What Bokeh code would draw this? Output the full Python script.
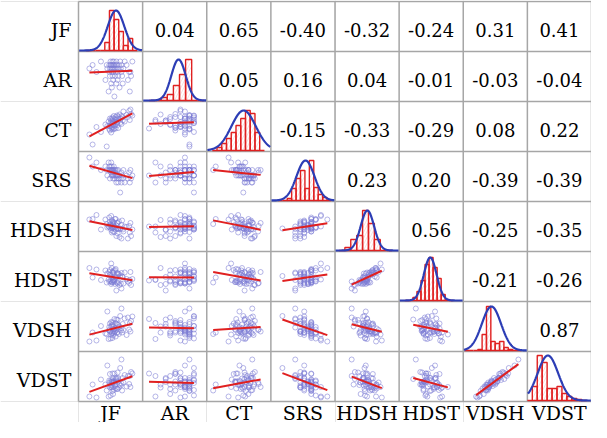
import numpy as np
from bokeh.plotting import figure
from bokeh.models import Range1d
from bokeh.core.properties import value
from bokeh.embed import file_html
from bokeh.resources import INLINE

names = ["JF", "AR", "CT", "SRS", "HDSH", "HDST", "VDSH", "VDST"]

# correlation coefficients (upper triangle as printed)
corr_JF = [1.00, 0.04, 0.65, -0.40, -0.32, -0.24, 0.31, 0.41]
corr_AR = [0.04, 1.00, 0.05, 0.16, 0.04, -0.01, -0.03, -0.04]
corr_CT = [0.65, 0.05, 1.00, -0.15, -0.33, -0.29, 0.08, 0.22]
corr_SRS = [-0.40, 0.16, -0.15, 1.00, 0.23, 0.20, -0.39, -0.39]
corr_HDSH = [-0.32, 0.04, -0.33, 0.23, 1.00, 0.56, -0.25, -0.35]
corr_HDST = [-0.24, -0.01, -0.29, 0.20, 0.56, 1.00, -0.21, -0.26]
corr_VDSH = [0.31, -0.03, 0.08, -0.39, -0.25, -0.21, 1.00, 0.87]
corr_VDST = [0.41, -0.04, 0.22, -0.39, -0.35, -0.26, 0.87, 1.00]
corr = [corr_JF, corr_AR, corr_CT, corr_SRS, corr_HDSH, corr_HDST, corr_VDSH, corr_VDST]

# observations (scaled 0-100 within each panel)
JF = [17, 22, 28, 35, 42, 44, 45, 47, 48, 48, 49, 49, 50, 50, 51, 51, 51, 52, 52, 52,
      53, 53, 53, 54, 54, 54, 54, 55, 55, 56, 56, 57, 57, 58, 58, 59, 59, 60, 60, 61,
      61, 62, 62, 63, 64, 65, 66, 67, 67, 68, 69, 70, 72, 75, 77, 79, 80, 81, 82, 84]
AR = [66, 73, 59, 80, 43, 73, 66, 20, 73, 59, 66, 51, 80, 73, 36, 66, 73, 59, 28, 66,
      73, 80, 51, 66, 73, 43, 59, 66, 80, 10, 73, 66, 51, 59, 73, 36, 80, 66, 73, 43,
      59, 66, 51, 73, 28, 80, 66, 59, 73, 51, 36, 66, 80, 73, 43, 59, 20, 59, 51, 80]
CT = [34, 14, 49, 39, 54, 10, 51, 60, 45, 51, 66, 42, 57, 51, 62, 38, 65, 49, 55, 45,
      61, 68, 48, 59, 44, 65, 55, 52, 71, 46, 59, 65, 52, 69, 46, 59, 64, 57, 72, 53,
      59, 70, 47, 66, 74, 57, 66, 55, 71, 69, 62, 80, 60, 73, 69, 81, 63, 84, 75, 72]
SRS = [88, 70, 78, 63, 70, 63, 52, 78, 63, 70, 46, 63, 70, 63, 58, 78, 63, 52, 70, 63,
       63, 52, 63, 46, 58, 63, 52, 70, 63, 52, 46, 63, 58, 52, 63, 38, 52, 63, 46, 52,
       52, 38, 63, 46, 52, 18, 46, 58, 38, 52, 46, 63, 38, 52, 46, 58, 38, 63, 46, 52]
HDSH = [64, 65, 73, 44, 64, 55, 48, 50, 68, 49, 53, 59, 47, 55, 43, 71, 52, 38, 63, 50,
        47, 60, 48, 55, 53, 40, 59, 48, 58, 50, 39, 65, 48, 44, 65, 31, 52, 46, 57, 57,
        36, 45, 46, 60, 29, 46, 45, 53, 26, 62, 44, 40, 50, 49, 26, 51, 38, 57, 31, 44]
HDST = [67, 48, 64, 43, 62, 38, 56, 44, 59, 40, 54, 63, 41, 53, 35, 76, 48, 38, 67, 39,
        48, 59, 42, 59, 39, 42, 57, 44, 62, 42, 40, 63, 35, 48, 65, 22, 50, 38, 57, 54,
        36, 56, 39, 55, 33, 51, 36, 57, 26, 50, 49, 36, 58, 45, 40, 37, 43, 59, 33, 45]
VDSH = [20, 38, 22, 51, 36, 35, 80, 25, 43, 49, 40, 56, 26, 41, 50, 34, 59, 37, 38, 53,
        27, 51, 58, 40, 45, 32, 54, 44, 36, 65, 39, 46, 41, 57, 30, 64, 44, 37, 55, 39,
        63, 48, 53, 35, 50, 71, 42, 47, 86, 38, 55, 43, 66, 33, 68, 44, 57, 40, 61, 70]
VDST = [10, 34, 8, 44, 34, 22, 72, 10, 38, 42, 28, 55, 12, 33, 39, 29, 43, 33, 28, 40,
        21, 37, 56, 29, 40, 15, 46, 40, 23, 56, 38, 31, 34, 47, 26, 45, 42, 25, 47, 25,
        58, 47, 40, 28, 34, 67, 32, 36, 84, 22, 47, 38, 53, 30, 51, 35, 51, 29, 59, 56]
series = [JF, AR, CT, SRS, HDSH, HDST, VDSH, VDST]

# histograms on the diagonal: first bin edge, bin width, counts
hist_start = [12, 10, 8.6, 11.7, 6.2, 8.9, 2.2, 0]
hist_width = [7.25, 9.5, 7.4, 6.9, 9.2, 6.3, 6.8, 7.7]
hist_JF = [0, 0, 0, 0, 8, 40, 31, 19, 5, 12, 0]
hist_AR = [0, 0, 3, 6, 15, 26, 41, 0, 0]
hist_CT = [0, 3, 7, 12, 18, 25, 32, 40, 37, 18, 0]
hist_SRS = [0, 0, 2, 12, 22, 30, 12, 40, 13, 6, 3, 0]
hist_HDSH = [0, 3, 11, 15, 40, 27, 11, 0, 0]
hist_HDST = [0, 0, 3, 9, 20, 36, 43, 33, 22, 6, 0, 0]
hist_VDSH = [0, 0, 0, 1, 16, 44, 9, 7, 9, 3, 1, 0, 0]
hist_VDST = [0, 14, 45, 38, 12, 12, 14, 7, 4, 2, 1, 0]
hists = [hist_JF, hist_AR, hist_CT, hist_SRS, hist_HDSH, hist_HDST, hist_VDSH, hist_VDST]
# fitted normal curves: mean, sd
norm_mean = [58.5, 56, 57.5, 54, 50.5, 48.5, 44, 32]
norm_sd = [12.9, 11.3, 19, 14, 10.5, 10, 15, 16]

GRID = "#a6a6a6"
COUNT_SCALE = 1 / 50.0
SERIF = "DejaVu Serif"
n = len(names)

# canvas geometry (pixels): label margin left, matrix size, label margin below
W, H = 591, 422
LEFT, TOP, CELL_H = 78, 1, 50.0
CELL_W = (W - LEFT) / n
BOTTOM = H - TOP - n * CELL_H
ux, uy = 1 / CELL_W, 1 / CELL_H

p = figure(frame_width=W, frame_height=H,
           x_range=Range1d(-LEFT * ux, n), y_range=Range1d(-BOTTOM * uy, n + TOP * uy),
           output_backend="svg", toolbar_location=None,
           x_axis_location=None, y_axis_location=None,
           min_border=0)
p.background_fill_color = "white"
p.border_fill_color = "white"
p.outline_line_color = None

# cell borders
gx = [[k, k] for k in range(n + 1)] + [[0, n] for k in range(n + 1)]
gy = [[0, n] for k in range(n + 1)] + [[k, k] for k in range(n + 1)]
p.multi_line(gx, gy, line_color=GRID, line_width=1.5)

# variable names along the left and bottom
p.text(x=[-7 * ux] * n, y=[n - 0.5 - k - 3 * uy for k in range(n)], text=names,
       text_font=value(SERIF), text_font_size="19px", text_color="black",
       text_align="right", text_baseline="middle")
p.text(x=[k + 0.5 for k in range(n)], y=[-11 * uy] * n, text=names,
       text_font=value(SERIF), text_font_size="19px", text_color="black",
       text_align="center", text_baseline="middle")

arr = [np.array(s, dtype=float) for s in series]

# scatter + regression lines in lower triangle
sx, sy, lx, ly = [], [], [], []
for i in range(n):
    for j in range(i):
        x0 = j
        y0 = n - 1 - i
        sx.extend(x0 + arr[j] / 100.0)
        sy.extend(y0 + arr[i] / 100.0)
        mj, mi = arr[j].mean(), arr[i].mean()
        slope = corr[i][j] * arr[i].std() / arr[j].std()
        xa, xb = arr[j].min(), arr[j].max()
        lx.append([x0 + xa / 100.0, x0 + xb / 100.0])
        ly.append([y0 + (mi + slope * (xa - mj)) / 100.0, y0 + (mi + slope * (xb - mj)) / 100.0])

p.scatter(sx, sy, marker="circle", size=5, fill_color=None,
          line_color="#7c7cd4", line_alpha=0.7, line_width=0.8)
p.multi_line(lx, ly, line_color="#e02020", line_width=2)

# histograms + normal curves on the diagonal
ql, qr, qb, qt = [], [], [], []
cx, cy = [], []
for k in range(n):
    base = n - 1 - k + 0.02
    for b, c in enumerate(hists[k]):
        lo = hist_start[k] + b * hist_width[k]
        ql.append(k + lo / 100.0)
        qr.append(k + (lo + hist_width[k]) / 100.0)
        qb.append(base)
        qt.append(base + c * COUNT_SCALE)
    xs = np.linspace(1, 99, 200)
    peak = max(hists[k])
    ys = peak * np.exp(-0.5 * ((xs - norm_mean[k]) / norm_sd[k]) ** 2)
    cx.append(list(k + xs / 100.0))
    cy.append(list(base + ys * COUNT_SCALE))

p.quad(left=ql, right=qr, bottom=qb, top=qt, fill_color="white", fill_alpha=0.0,
       line_color="#e02020", line_width=1.4,
       hatch_pattern="/", hatch_color="#e87070", hatch_alpha=0.35,
       hatch_scale=6, hatch_weight=0.6)
p.multi_line(cx, cy, line_color="#2c3db5", line_width=2.2)

# coefficients in upper triangle
tx, ty, tt = [], [], []
for i in range(n):
    for j in range(i + 1, n):
        tx.append(j + 0.5)
        ty.append(n - 0.5 - i - 3 * uy)
        tt.append("%.2f" % corr[i][j])
p.text(x=tx, y=ty, text=tt, text_font=value(SERIF), text_font_size="18px",
       text_align="center", text_baseline="middle", text_color="black")

open("out.html", "w").write(file_html(p, INLINE))
